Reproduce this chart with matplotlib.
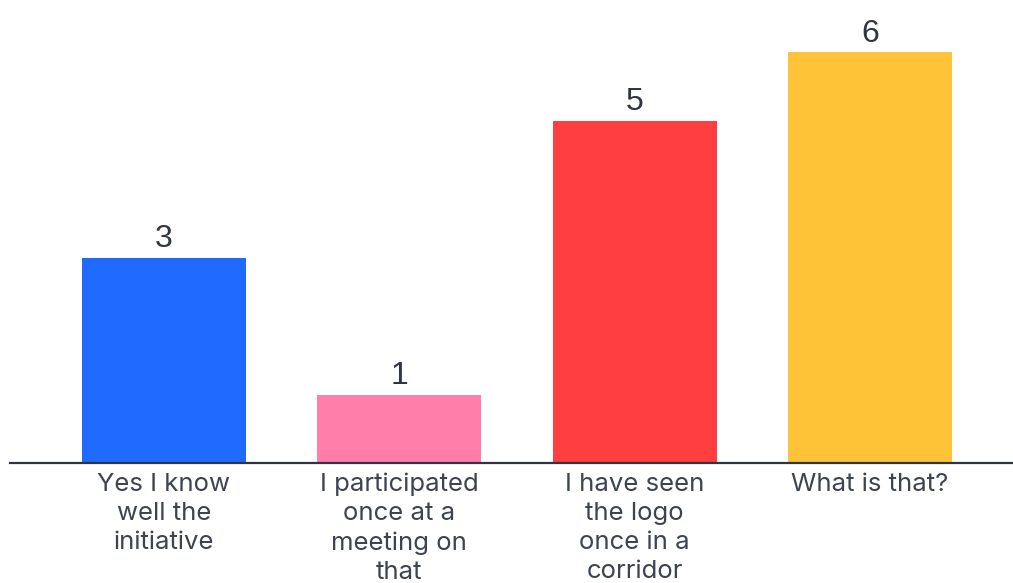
import matplotlib.pyplot as plt

# Data
categories = [
    "Yes I know\nwell the\ninitiative",
    "I participated\nonce at a\nmeeting on\nthat",
    "I have seen\nthe logo\nonce in a\ncorridor",
    "What is that?",
]
values = [3, 1, 5, 6]
colors = ["#1f6bff", "#ff7eaa", "#ff3f3f", "#ffc338"]

fig = plt.figure(figsize=(10.13, 5.83), dpi=100)
ax = fig.add_axes([10 / 1013, 120 / 583, 1003 / 1013, 463 / 583])

x = list(range(len(values)))
bars = ax.bar(x, values, width=0.697, color=colors)

# value labels above bars
for xi, v in zip(x, values):
    ax.text(xi, v + 0.15, str(v), ha="center", va="baseline",
            fontsize=23, color="#2f3542", family="Liberation Sans")

ax.set_xlim(-0.654, 3.608)
ax.set_ylim(0, 463 / 68.5)

ax.set_xticks(x)
ax.set_xticklabels(categories, fontsize=18.5, color="#3d4350",
                   family="Inter", linespacing=1.33)
ax.tick_params(axis="x", length=0, pad=7)
ax.set_yticks([])

for side in ["top", "right", "left"]:
    ax.spines[side].set_visible(False)
ax.spines["bottom"].set_color("#2e3440")
ax.spines["bottom"].set_linewidth(1.6)

fig.savefig("out.png", dpi=100)
